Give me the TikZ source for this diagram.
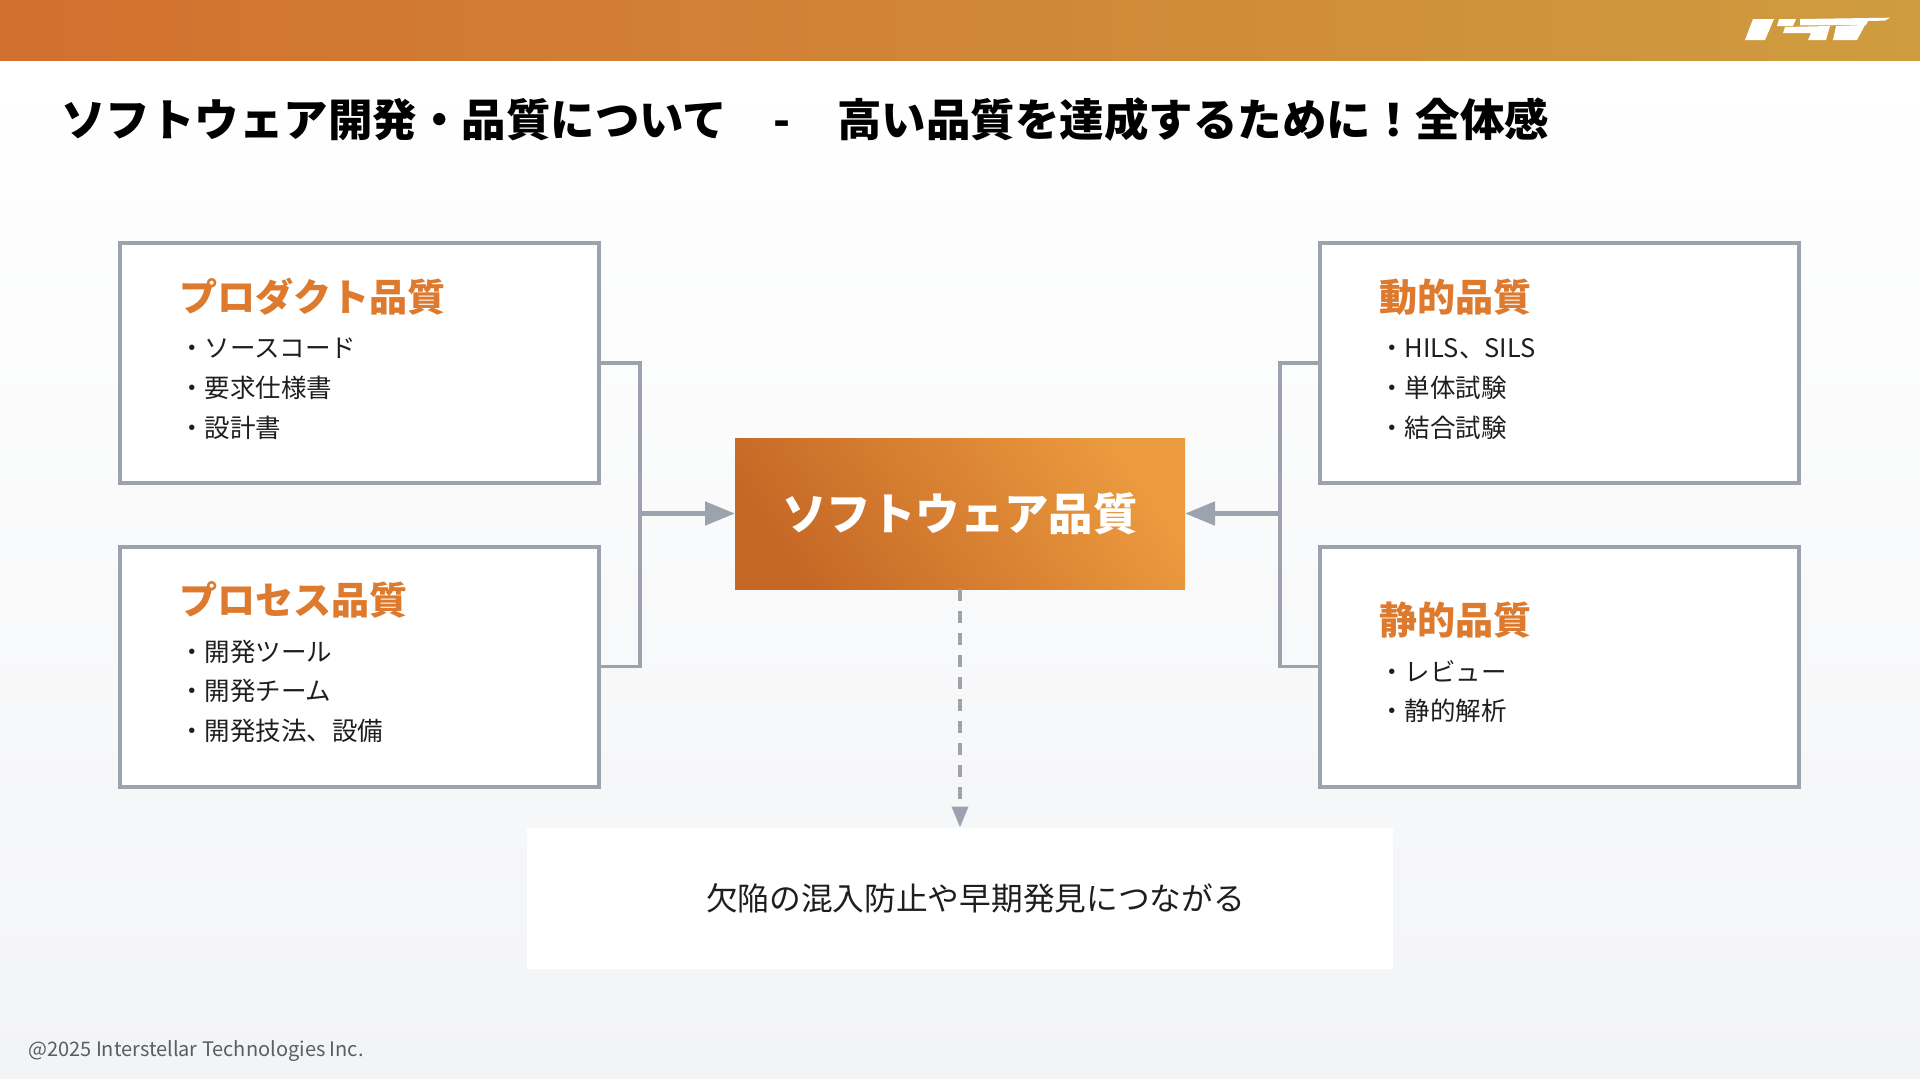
\documentclass[tikz,border=0pt]{standalone}
\usepackage{fontspec}
\setmainfont{Noto Sans CJK JP}
\usetikzlibrary{arrows.meta}
\definecolor{linegray}{HTML}{9CA3AF}
\definecolor{accent}{HTML}{DD7A2E}
\definecolor{orangeA}{HTML}{C56826}
\definecolor{orangeB}{HTML}{EB9A3E}
\definecolor{headL}{HTML}{D2702F}
\definecolor{headR}{HTML}{CF9C3F}
\definecolor{bgbot}{HTML}{F3F4F6}
\definecolor{foot}{HTML}{5A5D63}
\definecolor{body}{HTML}{1E1E1E}
\tikzset{
  x=1pt,y=-1pt,
  panel/.style={draw=linegray,line width=4pt,fill=white,minimum width=479pt,minimum height=240pt,inner sep=0pt,outer sep=0pt,anchor=north west},
  paneltitle/.style={anchor=west,inner sep=0pt,text=accent,font=\fontsize{38.1}{40}\selectfont\bfseries},
  item/.style={anchor=west,inner sep=0pt,text=body,font=\fontsize{25.5}{28}\selectfont},
  conn/.style={draw=linegray,line width=3.6pt},
  arrowconn/.style={draw=linegray,line width=4.8pt,-{Triangle[length=30pt,width=23pt]}},
  dashconn/.style={draw=linegray,line width=3.5pt,dash pattern=on 12pt off 10pt,-{Triangle[length=21pt,width=16pt]}},
  logo/.style={fill=white,draw=none},
}
\begin{document}
\begin{tikzpicture}
\useasboundingbox (0,0) rectangle (1920,1079);
% background
\shade[top color=white,bottom color=bgbot] (0,60) rectangle (1920,1079);
\shade[left color=headL,right color=headR] (0,0) rectangle (1920,60);
% logo
\fill[logo] (1753,19) -- (1774,19) -- (1765,40) -- (1745,40) -- cycle;
\fill[logo] (1779,19) -- (1796,19) -- (1793,26) -- (1777,26) -- cycle;
\fill[logo] (1785,27) -- (1830,26) -- (1826,40) -- (1808,40) -- (1811,33) -- (1783,33) -- cycle;
\fill[logo] (1800,19) -- (1890,17.7) -- (1885,20.6) -- (1868,21) -- (1866,25) -- (1800,25.5) -- cycle;
\fill[logo] (1836,26) -- (1865,25) -- (1857,40) -- (1833,40) -- cycle;
% title
\node[anchor=west,inner sep=0pt,font=\fontsize{44.5}{48}\selectfont\bfseries] (t1) at (61,120) {ソフトウェア開発・品質について};
\node[anchor=base,inner sep=0pt,font=\fontsize{44.5}{48}\selectfont\bfseries] (t2) at (782,136) {-};
\node[anchor=west,inner sep=0pt,font=\fontsize{44.5}{48}\selectfont\bfseries] (t3) at (837,120) {高い品質を達成するために！全体感};
% panels
\node[panel] (pa) at (120,243) {};
\node[panel] (pb) at (120,546.5) {};
\node[panel] (pc) at (1320,243) {};
\node[panel] (pd) at (1320,546.5) {};
\node[fill=white,minimum width=866pt,minimum height=141pt,inner sep=0pt,outer sep=0pt] (res) at (960,898) {};
\node[anchor=center,inner sep=0pt,font=\fontsize{31.7}{34}\selectfont,text=body] (restext) at (975.5,898) {欠陥の混入防止や早期発見につながる};
\node[minimum width=450pt,minimum height=151pt,inner sep=0pt,outer sep=0pt,text=white,font=\fontsize{44.4}{48}\selectfont\bfseries,left color=orangeA,right color=orangeB,shading angle=125] (core) at (960,513.5) {ソフトウェア品質};
% panel text
\node[paneltitle] (a0) at (179,297) {プロダクト品質};
\node[item] (a1) at (179,348.5) {・ソースコード};
\node[item] (a2) at (179,388) {・要求仕様書};
\node[item] (a3) at (179,428) {・設計書};
\node[paneltitle] (b0) at (179,600) {プロセス品質};
\node[item] (b1) at (179,651.5) {・開発ツール};
\node[item] (b2) at (179,691) {・開発チーム};
\node[item] (b3) at (179,731) {・開発技法、設備};
\node[paneltitle] (c0) at (1379,297) {動的品質};
\node[item] (c1) at (1379,348.5) {・HILS、SILS};
\node[item] (c2) at (1379,388) {・単体試験};
\node[item] (c3) at (1379,428) {・結合試験};
\node[paneltitle] (d0) at (1379,620) {静的品質};
\node[item] (d1) at (1379,671) {・レビュー};
\node[item] (d2) at (1379,711) {・静的解析};
% connectors
\coordinate (lbus) at (640,513.5);
\coordinate (rbus) at (1280,513.5);
\draw[conn] (pa.east) -| (lbus);
\draw[conn] (pb.east) -| (lbus);
\draw[conn] (pc.west) -| (rbus);
\draw[conn] (pd.west) -| (rbus);
\draw[arrowconn] (lbus) -- (core.west);
\draw[arrowconn] (rbus) -- (core.east);
\draw[dashconn] (core.south) -- (res.north);
% footer
\node[anchor=west,inner sep=0pt,text=foot,font=\fontsize{20}{22}\selectfont] (foot) at (28,1051) {@2025 Interstellar Technologies Inc.};
\end{tikzpicture}
\end{document}
